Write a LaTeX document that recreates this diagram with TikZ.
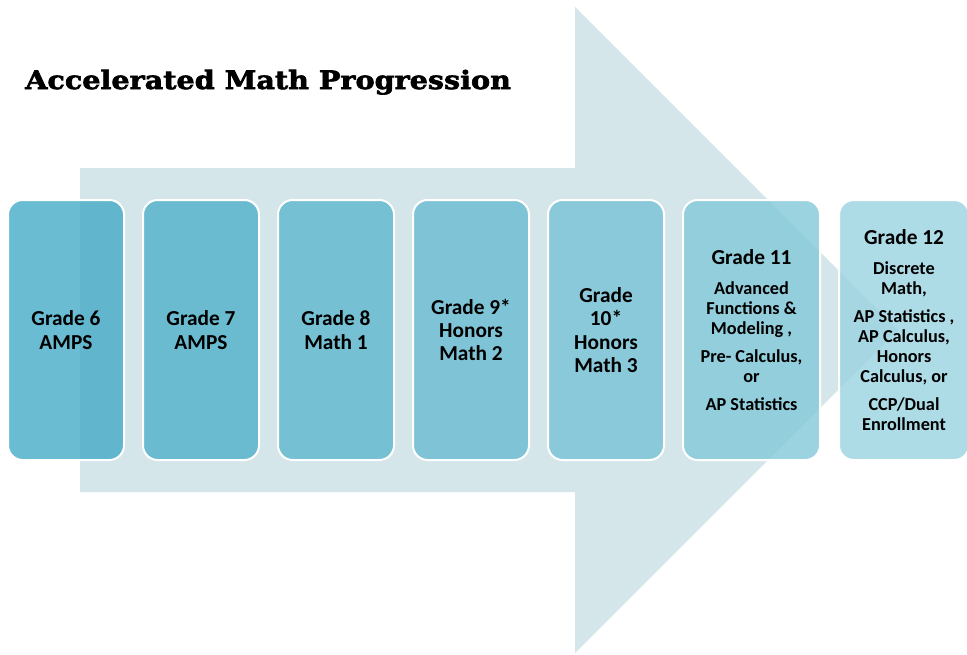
\documentclass[tikz,border=0pt]{standalone}
\usepackage{fontspec}
\setmainfont{Carlito}
\newfontfamily\titlefont{DejaVu Serif}[BoldFeatures={FakeBold=2.5,FakeStretch=1.13}]
\usetikzlibrary{positioning}

\definecolor{arrowblue}{RGB}{213,230,235}
\definecolor{gradeA}{RGB}{69,171,199}
\definecolor{gradeB}{RGB}{81,177,202}
\definecolor{gradeC}{RGB}{93,183,206}
\definecolor{gradeD}{RGB}{106,188,209}
\definecolor{gradeE}{RGB}{118,194,213}
\definecolor{gradeF}{RGB}{130,200,216}
\definecolor{gradeG}{RGB}{154,211,224}

\tikzset{
  gradebox/.style={draw=white, line width=1.5pt, rounded corners=11pt,
    fill opacity=0.8, text opacity=1, minimum width=87pt,
    minimum height=195pt, align=center, inner sep=2pt,
    font=\bfseries\fontsize{16}{17.5}\selectfont},
  widebox/.style={gradebox, minimum width=102.75pt,
    font=\bfseries\fontsize{13.7}{15}\selectfont},
}
\newcommand{\gradehead}[1]{{\fontsize{16}{15}\selectfont #1}}

\begin{document}
\begin{tikzpicture}[x=0.75pt,y=-0.75pt]
\useasboundingbox (0,0) rectangle (967,654);
% big arrow behind the grades
\fill[arrowblue] (80,168) -- (575,168) -- (575,7) -- (898,330)
  -- (575,653) -- (575,492) -- (80,492) -- cycle;
% grade boxes
\node[gradebox, fill=gradeA] (g6) at (66,330) {Grade 6\\AMPS};
\node[gradebox, fill=gradeB, right=12.75pt of g6] (g7) {Grade 7\\AMPS};
\node[gradebox, fill=gradeC, right=12.75pt of g7] (g8) {Grade 8\\Math 1};
\node[gradebox, fill=gradeD, right=12.75pt of g8] (g9) {Grade 9*\\Honors\\Math 2};
\node[gradebox, fill=gradeE, right=12.75pt of g9] (g10) {Grade\\10*\\Honors\\Math 3};
\node[widebox, fill=gradeF, right=12.75pt of g10] (g11) {\gradehead{Grade 11}\\[7.5pt]
  Advanced\\Functions \&\\Modeling ,\\[6pt]Pre- Calculus,\\or\\[6pt]AP Statistics};
\node[widebox, fill=gradeG, minimum width=97.5pt, right=12.75pt of g11] (g12) {\gradehead{Grade 12}\\[7.5pt]
  Discrete\\Math,\\[6pt]AP Statistics ,\\AP Calculus,\\Honors\\Calculus, or\\[6pt]CCP/Dual\\Enrollment};
% title
\node[anchor=base west, inner sep=0pt, font=\titlefont\bfseries\fontsize{19}{20}\selectfont] (title) at (25,89) {Accelerated Math Progression};
\end{tikzpicture}
\end{document}
